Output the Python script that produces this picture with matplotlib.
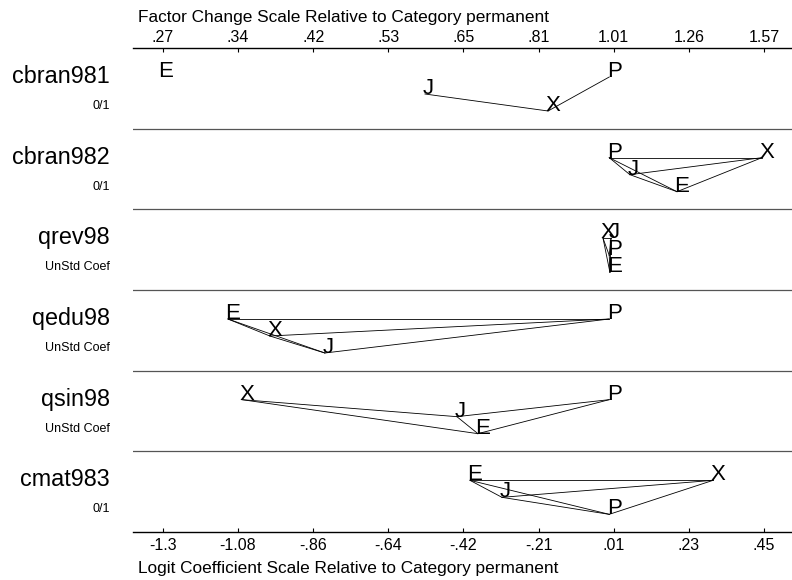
import matplotlib.pyplot as plt
import numpy as np
from matplotlib.transforms import blended_transform_factory, offset_copy

plt.rcParams['font.family'] = ['Liberation Sans', 'DejaVu Sans']

# variables and how they were scaled
variables = ['cbran981', 'cbran982', 'qrev98', 'qedu98', 'qsin98', 'cmat983']
scaling = ['0/1', '0/1', 'UnStd Coef', 'UnStd Coef', 'UnStd Coef', '0/1']

# logit coefficients relative to category permanent (P)
coef_P = [0.0, 0.0, 0.0, 0.0, 0.0, 0.0]
coef_J = [-0.536, 0.060, 0.005, -0.827, -0.443, -0.312]
coef_X = [-0.178, 0.444, -0.018, -0.987, -1.068, 0.302]
coef_E = [-1.305, 0.197, 0.002, -1.109, -0.382, -0.405]

# vertical level of each letter inside its row (1 = top)
row_P = [1, 1, 2, 1, 1, 3]
row_J = [2, 2, 1, 3, 2, 2]
row_X = [3, 1, 1, 2, 1, 1]
row_E = [1, 3, 3, 1, 3, 1]

# pairs joined by a line (not significantly different)
links = [
    ['JX', 'XP'],
    ['PX', 'PJ', 'PE', 'JX', 'JE', 'EX'],
    ['PX', 'PJ', 'PE', 'JX', 'JE', 'EX'],
    ['PX', 'PJ', 'PE', 'JX', 'JE', 'EX'],
    ['XJ', 'XE', 'JE', 'JP', 'EP'],
    ['PX', 'PJ', 'PE', 'JX', 'JE', 'EX'],
]

# axis tick labels
logit_labels = ['-1.3', '-1.08', '-.86', '-.64', '-.42', '-.21', '.01', '.23', '.45']
factor_labels = ['.27', '.34', '.42', '.53', '.65', '.81', '1.01', '1.26', '1.57']
tick_min, tick_max = -1.298, 0.45

coefs = {'P': coef_P, 'J': coef_J, 'X': coef_X, 'E': coef_E}
rows = {'P': row_P, 'J': row_J, 'X': row_X, 'E': row_E}
level_y = {1: 29 / 80.67, 2: 46 / 80.67, 3: 63 / 80.67}

W, H = 792, 580
fig = plt.figure(figsize=(W / 100, H / 100), dpi=100)
ax = fig.add_axes([133 / W, 1 - 532 / H, 659 / W, 484 / H])
ax.set_xlim(-1.385, 0.5315)
ax.set_ylim(len(variables), 0)

ticks = np.linspace(tick_min, tick_max, len(logit_labels))
ax.set_xticks(ticks)
ax.set_xticklabels(logit_labels)
ax.set_yticks([])
ax.tick_params(axis='x', direction='in', length=3, width=0.8, labelsize=11.5, pad=4)
for s in ['left', 'right', 'top']:
    ax.spines[s].set_visible(False)
ax.spines['bottom'].set_linewidth(1.0)

top = ax.secondary_xaxis('top')
top.set_xticks(ticks)
top.set_xticklabels(factor_labels)
top.tick_params(axis='x', direction='in', length=3, width=0.8, labelsize=11.5, pad=2)
top.spines['top'].set_linewidth(1.0)

for k in range(1, len(variables)):
    ax.axhline(k, color='#555555', lw=0.9)

lab_tr = blended_transform_factory(fig.transFigure, ax.transData)
let_tr = offset_copy(ax.transData, fig=fig, x=-2.5, y=0, units='dots')
for k, name in enumerate(variables):
    ax.text(110 / W, k + 35 / 80.67, name, transform=lab_tr, ha='right',
            va='baseline', fontsize=16.8, clip_on=False)
    ax.text(110 / W, k + 61 / 80.67, scaling[k], transform=lab_tr, ha='right',
            va='baseline', fontsize=9, clip_on=False)

    for pair in links[k]:
        a, b = pair[0], pair[1]
        ax.plot([coefs[a][k], coefs[b][k]],
                [k + level_y[rows[a][k]], k + level_y[rows[b][k]]],
                color='black', lw=0.6)
    for let in ['P', 'J', 'X', 'E']:
        ax.text(coefs[let][k], k + level_y[rows[let][k]], let, transform=let_tr,
                ha='left', va='baseline', fontsize=16, clip_on=False)

fig.text(138 / W, 1 - 22 / H, 'Factor Change Scale Relative to Category permanent',
         ha='left', va='baseline', fontsize=12.4)
fig.text(138 / W, 1 - 573 / H, 'Logit Coefficient Scale Relative to Category permanent',
         ha='left', va='baseline', fontsize=12.4)

fig.savefig('out.png', dpi=100)
